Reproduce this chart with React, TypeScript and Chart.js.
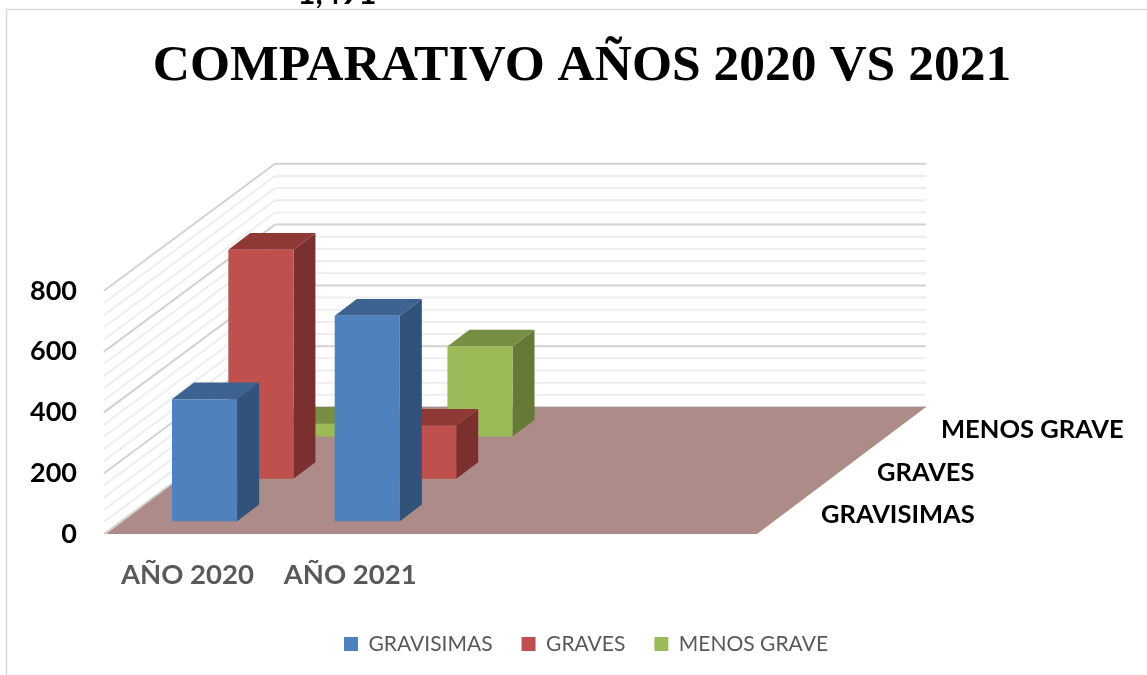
import React, { useEffect, useRef } from "react";
import { Chart, registerables } from "chart.js";

Chart.register(...registerables);

const categories = ["AÑO 2020", "AÑO 2021", "", ""];
const seriesNames = ["GRAVISIMAS", "GRAVES", "MENOS GRAVE"];
const gravisimas = [401, 676, null, null];
const graves = [754, 175, null, null];
const menosGrave = [42, 296, null, null];
const yTicksStep = 200;
const yMinorStep = 40;
const yMax = 800;
const titleText = "COMPARATIVO AÑOS 2020 VS 2021";
const clippedText = "1,491";

const frontColors = ["#4f81bd", "#c0504d", "#9bbb59"];
const sideColors = ["#31537a", "#7b2f2e", "#667a37"];
const topColors = ["#3c6390", "#8f3937", "#768f42"];

const DEPTH_DX = 169;
const DEPTH_DY = 127;
const BAR_DX = 22;
const BAR_DY = 16.7;
const depthLabelLeft = [821, 877, 941];
const depthLabelY = [515, 473, 430];

function seriesOffset(i: number) {
  const bx = DEPTH_DX / 3;
  const by = DEPTH_DY / 3;
  return { x: i * bx + (bx - BAR_DX) / 2, y: -(i * by + (by - BAR_DY) / 2) };
}

function line(ctx: CanvasRenderingContext2D, x1: number, y1: number, x2: number, y2: number) {
  ctx.beginPath();
  ctx.moveTo(x1, y1);
  ctx.lineTo(x2, y2);
  ctx.stroke();
}

function poly(ctx: CanvasRenderingContext2D, pts: number[][], fill: string) {
  ctx.fillStyle = fill;
  ctx.beginPath();
  pts.forEach((p, i) => (i ? ctx.lineTo(p[0], p[1]) : ctx.moveTo(p[0], p[1])));
  ctx.closePath();
  ctx.fill();
}

const scene3d = {
  id: "scene3d",
  afterLayout(chart: any) {
    const lg = chart.legend;
    lg.left += 4;
    lg.right += 4;
    lg.top -= 10.5;
    lg.bottom -= 10.5;
  },
  beforeDraw(chart: any) {
    const { ctx, scales, chartArea } = chart;
    const y = scales.y;
    const left = chartArea.left;
    const right = chartArea.right;
    ctx.save();
    // outer frame and the cut-off number above it
    ctx.fillStyle = "#000";
    ctx.font = "bold 31px Lato";
    ctx.textAlign = "center";
    ctx.textBaseline = "alphabetic";
    ctx.save();
    ctx.beginPath();
    ctx.rect(0, 0, 1147, 8);
    ctx.clip();
    ctx.fillText(clippedText, 337, 4);
    ctx.restore();
    ctx.strokeStyle = "#d9d9d9";
    ctx.lineWidth = 1.5;
    line(ctx, 6.5, 10, 6.5, 675);
    line(ctx, 6, 9.5, 1147, 9.5);
    // walls
    for (let v = yMax; v >= 0; v -= yMinorStep) {
      const major = v % yTicksStep === 0;
      ctx.strokeStyle = major ? "#d2d2d2" : "#eeeeee";
      ctx.lineWidth = 2;
      const py = y.getPixelForValue(v);
      line(ctx, left - 2, py, left + DEPTH_DX, py - DEPTH_DY);
      line(ctx, left + DEPTH_DX, py - DEPTH_DY, right + DEPTH_DX, py - DEPTH_DY);
    }
    // floor
    const base = y.getPixelForValue(0);
    poly(
      ctx,
      [
        [left, base],
        [right, base],
        [right + DEPTH_DX, base - DEPTH_DY],
        [left + DEPTH_DX, base - DEPTH_DY],
      ],
      "#ad8b88"
    );
    // depth axis labels
    ctx.fillStyle = "#000";
    ctx.font = "bold 25.5px Lato";
    ctx.textAlign = "left";
    ctx.textBaseline = "middle";
    seriesNames.forEach((n, i) => ctx.fillText(n, depthLabelLeft[i], depthLabelY[i]));
    ctx.restore();
  },
  beforeDatasetDraw(chart: any, args: any) {
    const { ctx } = chart;
    const i = args.index;
    const off = seriesOffset(i);
    const values = chart.data.datasets[i].data;
    ctx.save();
    ctx.translate(off.x, off.y);
    args.meta.data.forEach((bar: any, k: number) => {
      if (values[k] == null) return;
      const l = bar.x - bar.width / 2;
      const r = bar.x + bar.width / 2;
      const t = bar.y;
      const b = bar.base;
      poly(ctx, [[r, t], [r + BAR_DX, t - BAR_DY], [r + BAR_DX, b - BAR_DY], [r, b]], sideColors[i]);
      poly(ctx, [[l, t], [l + BAR_DX, t - BAR_DY], [r + BAR_DX, t - BAR_DY], [r, t]], topColors[i]);
    });
  },
  afterDatasetDraw(chart: any) {
    chart.ctx.restore();
  },
};

export default function App() {
  const ref = useRef<HTMLCanvasElement>(null);
  useEffect(() => {
    const chart = new Chart(ref.current as HTMLCanvasElement, {
      type: "bar",
      data: {
        labels: categories,
        datasets: [gravisimas, graves, menosGrave].map((d, i) => ({
          label: seriesNames[i],
          data: d,
          backgroundColor: frontColors[i],
          borderWidth: 0,
          grouped: false,
          barPercentage: 1,
          categoryPercentage: 0.4,
          clip: false,
        })) as any,
      },
      plugins: [scene3d],
      options: {
        animation: false,
        responsive: false,
        layout: { padding: { left: 17, right: 0, top: 0, bottom: 0 } },
        plugins: {
          tooltip: { enabled: false },
          title: {
            display: true,
            text: titleText,
            color: "#000",
            font: { family: "'Liberation Serif'", weight: "bold", size: 51.5 },
            padding: { top: 36, bottom: 193 },
          },
          legend: {
            position: "bottom",
            labels: {
              boxWidth: 14,
              boxHeight: 14,
              padding: 29,
              color: "#595959",
              font: { family: "Lato", size: 21 },
            },
          },
        },
        scales: {
          x: {
            grid: { display: false },
            border: { display: false },
            ticks: {
              color: "#595959",
              font: { family: "Lato", weight: "bold", size: 27.5 },
              padding: 17,
              maxRotation: 0,
              autoSkip: false,
            },
            afterFit: (s: any) => {
              s.height = 81;
            },
          },
          y: {
            min: 0,
            max: yMax,
            grid: { display: false },
            border: { display: false },
            ticks: {
              stepSize: yTicksStep,
              color: "#000",
              font: { family: "Lato", weight: "bold", size: 27 },
              padding: 21,
            },
            afterFit: (s: any) => {
              s.width = 89;
            },
          },
          depthSpace: {
            type: "linear",
            position: "right",
            grid: { display: false },
            border: { display: false },
            ticks: { display: false },
            afterFit: (s: any) => {
              s.width = 390;
            },
          },
        },
      } as any,
    });
    return () => chart.destroy();
  }, []);
  return (
    <canvas
      ref={ref}
      width={1147}
      height={675}
      style={{ position: "fixed", left: 0, top: 0, width: 1147, height: 675 }}
    />
  );
}
